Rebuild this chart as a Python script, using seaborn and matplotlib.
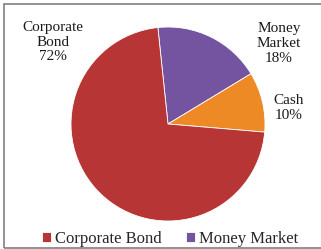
import matplotlib
matplotlib.use('Agg')
import matplotlib.pyplot as plt
import seaborn as sns
from matplotlib.patches import Rectangle

sns.set_theme(style='white')
plt.rcParams['font.family'] = ['Liberation Serif', 'DejaVu Serif']

# data (drawn clockwise from near 12 o'clock)
cats = ['Money Market', 'Cash', 'Corporate Bond']
shares = [18, 10, 72]
labels = ['Money\nMarket\n18%', 'Cash\n10%', 'Corporate\nBond\n72%']
colors = ['#7453A0', '#EE8A25', '#B73535']
legend_cats = ['Corporate Bond', 'Money Market']

W, H = 321, 249
fig = plt.figure(figsize=(W / 100, H / 100), dpi=100)
fig.patch.set_facecolor('white')

# outer chart frame
fig.patches.append(Rectangle((4 / W, 1.5 / H), 1.0, (H - 5.5) / H, transform=fig.transFigure,
                             fill=False, edgecolor='#808080', linewidth=1.2))

cx, cy, r = 168, 124, 97
ax = fig.add_axes([(cx - r) / W, (H - cy - r) / H, 2 * r / W, 2 * r / H])
wedges, _ = ax.pie(shares, colors=colors, startangle=96, counterclock=False,
                   wedgeprops=dict(linewidth=0.6, edgecolor='white'))
ax.set_xlim(-1, 1)
ax.set_ylim(-1, 1)
ax.set_aspect('equal')
ax.axis('off')

# data labels
pos = [(279, 43), (289, 108), (53, 42)]
for (x, y), lab in zip(pos, labels):
    fig.text(x / W, 1 - y / H, lab, ha='center', va='center', fontsize=11,
             linespacing=1.2, color='#1a1a1a')

handles = [wedges[cats.index(c)] for c in legend_cats]
leg = fig.legend(handles, legend_cats, loc='center', bbox_to_anchor=(170 / W, 1 - 239 / H),
                 ncol=2, frameon=False, fontsize=12, handlelength=0.55, handleheight=0.55,
                 handletextpad=0.2, columnspacing=1.5, borderpad=0)

fig.savefig('out.png', dpi=100)
